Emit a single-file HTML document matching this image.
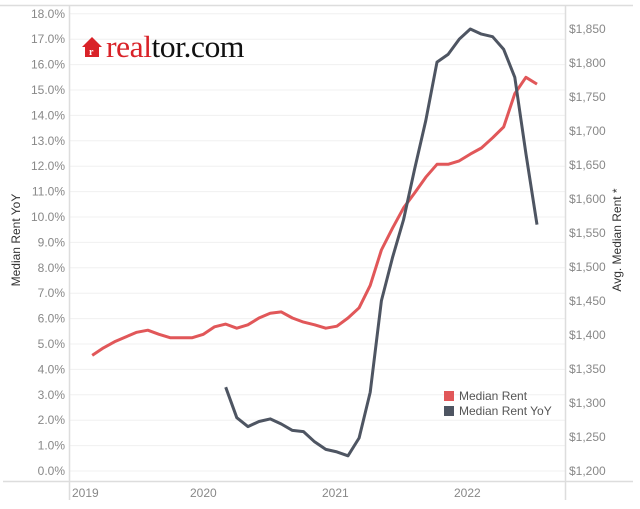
<!DOCTYPE html>
<html><head><meta charset="utf-8"><style>
body{margin:0;background:#fff;}
svg{display:block;font-family:"Liberation Sans",sans-serif;}
</style></head><body>
<svg id="chart" width="640" height="509" viewBox="0 0 640 509" xmlns="http://www.w3.org/2000/svg">
<g id="grid"></g>
<g id="axes">
<line x1="0" y1="5.5" x2="633" y2="5.5" stroke="#ddd" stroke-width="1.5"/>
<line x1="69.5" y1="5" x2="69.5" y2="500" stroke="#ddd" stroke-width="1.5"/>
<line x1="565.5" y1="5" x2="565.5" y2="500" stroke="#ddd" stroke-width="1.5"/>
<line x1="3" y1="481.5" x2="633" y2="481.5" stroke="#ddd" stroke-width="1.5"/>
</g>
<g id="leftTicks"></g>
<g id="rightTicks"></g>
<g id="xTicks"></g>
<text transform="translate(20,240) rotate(-90)" text-anchor="middle" font-size="12" fill="#333">Median Rent YoY</text>
<text transform="translate(621,240) rotate(-90)" text-anchor="middle" font-size="12" fill="#333">Avg. Median Rent *</text>
<g>
<polygon points="82,47 92,37 102,47 99,47 99,57 85,57 85,47" fill="#d92228"/>
<text x="89" y="55" font-size="10" fill="#fff" font-family="Liberation Serif,serif" font-weight="bold">r</text>
<text x="106" y="57" font-size="31" font-family="Liberation Serif,serif" letter-spacing="-0.5" textLength="138" lengthAdjust="spacingAndGlyphs"><tspan fill="#d92228">real</tspan><tspan fill="#111">tor.com</tspan></text>
</g>
<g id="series"></g>
<g>
<rect x="444" y="391" width="10" height="10" fill="#e15759"/>
<text x="459" y="400" font-size="12" fill="#555">Median Rent</text>
<rect x="444" y="406" width="10" height="10" fill="#4e5562"/>
<text x="459" y="415" font-size="12" fill="#555">Median Rent YoY</text>
</g>
</svg>
<script>
// months since Jan 2019
const rentMonths = [2,3,4,5,6,7,8,9,10,11,12,13,14,15,16,17,18,19,20,21,22,23,24,25,26,27,28,29,30,31,32,33,34,35,36,37,38,39,40,41,42];
const rentValues = [1370,1381,1390,1397,1404,1407,1401,1396,1396,1396,1401,1412,1416,1410,1415,1425,1432,1434,1425,1419,1415,1410,1413,1425,1440,1473,1525,1557,1587,1609,1632,1651,1651,1656,1666,1675,1690,1706,1755,1779,1769];
const yoyMonths = [14,15,16,17,18,19,20,21,22,23,24,25,26,27,28,29,30,31,32,33,34,35,36,37,38,39,40,41,42];
const yoyValues = [3.3,2.1,1.75,1.95,2.05,1.85,1.6,1.55,1.15,0.85,0.75,0.6,1.3,3.1,6.7,8.4,9.9,11.9,13.8,16.1,16.4,17.0,17.4,17.2,17.1,16.6,15.5,12.5,9.7];
const leftTickVals = [0,1,2,3,4,5,6,7,8,9,10,11,12,13,14,15,16,17,18];
const rightTickVals = [1200,1250,1300,1350,1400,1450,1500,1550,1600,1650,1700,1750,1800,1850];
const yearLabels = ["2019","2020","2021","2022"];

const NS="http://www.w3.org/2000/svg";
const x = m => 70 + m*11.12;
const yL = v => 471 - v*25.4;
const yR = v => 471 - (v-1200)*34/50;
const xYear = i => Math.max(70, 56 + i*132);
function mk(tag, attrs, parent, txt){const e=document.createElementNS(NS,tag);for(const k in attrs)e.setAttribute(k,attrs[k]);if(txt!==undefined)e.textContent=txt;parent.appendChild(e);return e;}
const grid=document.getElementById('grid'),lt=document.getElementById('leftTicks'),rt=document.getElementById('rightTicks'),xt=document.getElementById('xTicks'),ser=document.getElementById('series');
leftTickVals.forEach(v=>{
  const g=mk('line',{x1:70,x2:565,y1:yL(v),y2:yL(v),stroke:'#f0f0f0','stroke-width':1},grid);
  
  
  const t=mk('text',{x:65,y:yL(v)+4,'text-anchor':'end','font-size':12,fill:'#888'},lt,v.toFixed(1)+'%');
  
  
});
rightTickVals.forEach(v=>{
  const t=mk('text',{x:569,y:yR(v)+4,'font-size':12,fill:'#888'},rt,'$'+v.toLocaleString('en-US'));
  
  
});
yearLabels.forEach((l,i)=>{
  const t=mk('text',{x:xYear(i)+2,y:497,'font-size':12,fill:'#888'},xt,l);
  
  
});
const rp=rentMonths.map((m,i)=>x(m).toFixed(1)+','+yR(rentValues[i]).toFixed(1)).join(' ');
const r=mk('polyline',{points:rp,fill:'none',stroke:'#e15759','stroke-width':3,'stroke-linejoin':'round'},ser);


const yp=yoyMonths.map((m,i)=>x(m).toFixed(1)+','+yL(yoyValues[i]).toFixed(1)).join(' ');
const d=mk('polyline',{points:yp,fill:'none',stroke:'#4e5562','stroke-width':3,'stroke-linejoin':'round'},ser);


</script>
</body></html>
